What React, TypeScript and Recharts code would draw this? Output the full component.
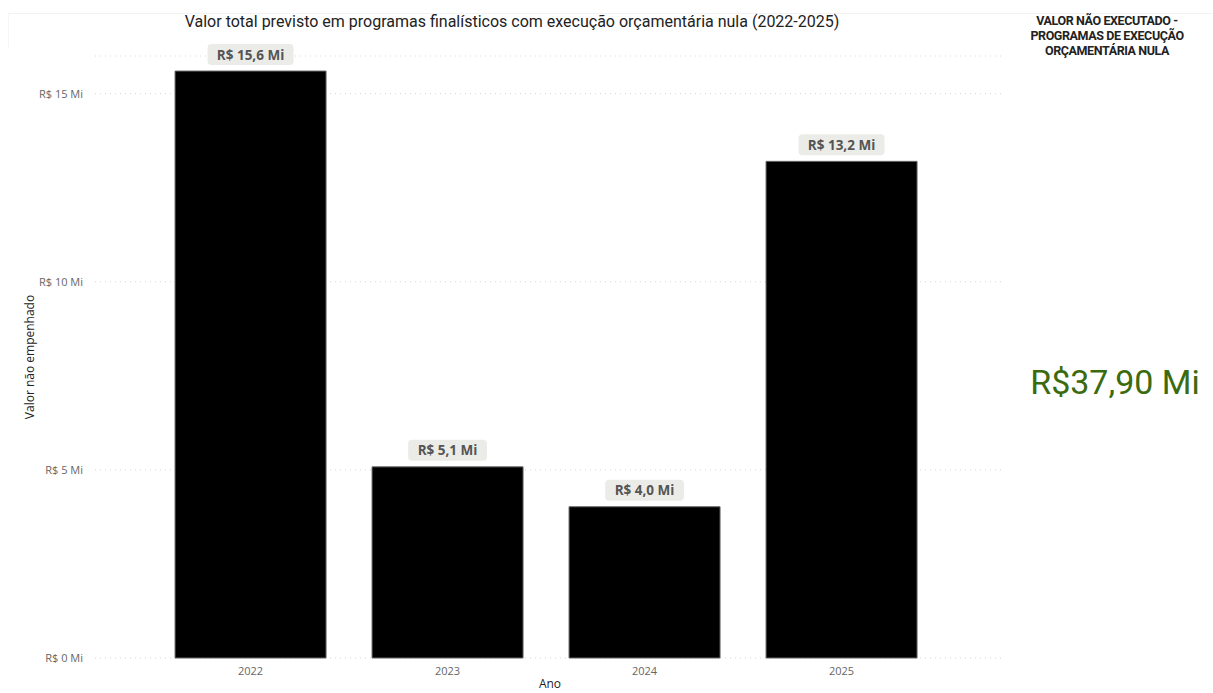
import { BarChart, Bar, XAxis, YAxis, CartesianGrid, LabelList } from 'recharts';

const years = ['2022', '2023', '2024', '2025'];
const naoEmpenhado = [15.6, 5.08, 4.02, 13.2]; // R$ milhões
const yTicks = [0, 5, 10, 15];
const cardTitle = ['VALOR NÃO EXECUTADO -', 'PROGRAMAS DE EXECUÇÃO', 'ORÇAMENTÁRIA NULA'];
const cardValue = 'R$37,90 Mi';

const data = years.map((ano, i) => ({ ano, valor: naoEmpenhado[i] }));

const fmtLabel = (v: number) => `R$ ${v.toFixed(1).replace('.', ',')} Mi`;

const ValueBadge = ({ x, y, width, value }: any) => {
  const text = fmtLabel(value);
  const w = text.length * 7.2 + 14;
  const cx = x + width / 2;
  return (
    <g>
      <rect x={cx - w / 2} y={y - 27} width={w} height={21} rx={4} fill="#ebece7" />
      <text
        x={cx}
        y={y - 11.5}
        textAnchor="middle"
        fontFamily="'Open Sans', sans-serif"
        fontWeight={700}
        fontSize={13.5}
        fill="#555"
      >
        {text}
      </text>
    </g>
  );
};

export default function App() {
  return (
    <div
      style={{
        position: 'absolute',
        left: 0,
        top: 0,
        width: 1213,
        height: 693,
        background: '#fff',
        fontFamily: 'Roboto, sans-serif',
        overflow: 'hidden',
      }}
    >
      <div style={{ position: 'absolute', left: 8, top: 13, width: 1205, height: 34, borderTop: '1px solid #f2f2f2', borderLeft: '1px solid #f6f6f6' }} />
      <div
        style={{
          position: 'absolute',
          left: 0,
          top: 12,
          width: 1024,
          textAlign: 'center',
          fontSize: 16,
          color: '#222',
        }}
      >
        Valor total previsto em programas finalísticos com execução orçamentária nula (2022-2025)
      </div>

      <div style={{ position: 'absolute', left: 0, top: 0 }}>
        <BarChart
          width={1010}
          height={693}
          data={data}
          margin={{ top: 56, right: 5, bottom: 5, left: 0 }}
          barCategoryGap="11.7%"
        >
          <CartesianGrid vertical={false} stroke="#d6d6d6" strokeDasharray="1 4" />
          <XAxis
            dataKey="ano"
            height={30}
            axisLine={false}
            tickLine={false}
            padding={{ left: 57, right: 65 }}
            tick={{ fill: '#666', fontSize: 11, fontFamily: "'Open Sans', sans-serif" }}
            tickMargin={3}
            label={{ value: 'Ano', position: 'insideBottom', offset: 0, fill: '#222', fontSize: 12, fontFamily: "'Open Sans', sans-serif" }}
          />
          <YAxis
            width={95}
            domain={[0, 16]}
            ticks={yTicks}
            axisLine={false}
            tickLine={false}
            tickFormatter={(v: number) => `R$ ${v} Mi`}
            tick={{ fill: '#666', fontSize: 11, fontFamily: "'Open Sans', sans-serif" }}
            tickMargin={6}
            label={{
              value: 'Valor não empenhado',
              angle: -90,
              position: 'insideLeft',
              offset: 30,
              style: { textAnchor: 'middle' },
              fill: '#222',
              fontSize: 12,
              fontFamily: "'Open Sans', sans-serif",
            }}
          />
          <Bar dataKey="valor" fill="#000" stroke="#666" strokeWidth={1} isAnimationActive={false}>
            <LabelList dataKey="valor" content={<ValueBadge />} />
          </Bar>
        </BarChart>
      </div>

      <div
        style={{
          position: 'absolute',
          left: 1007,
          top: 13,
          width: 200,
          textAlign: 'center',
          fontSize: 12.5,
          fontWeight: 700,
          letterSpacing: -0.4,
          lineHeight: '15px',
          color: '#222',
        }}
      >
        {cardTitle.map((l) => (
          <div key={l}>{l}</div>
        ))}
      </div>
      <div
        style={{
          position: 'absolute',
          left: 1015,
          top: 362,
          width: 200,
          textAlign: 'center',
          fontSize: 34,
          color: '#3b6a0f',
        }}
      >
        {cardValue}
      </div>
    </div>
  );
}
